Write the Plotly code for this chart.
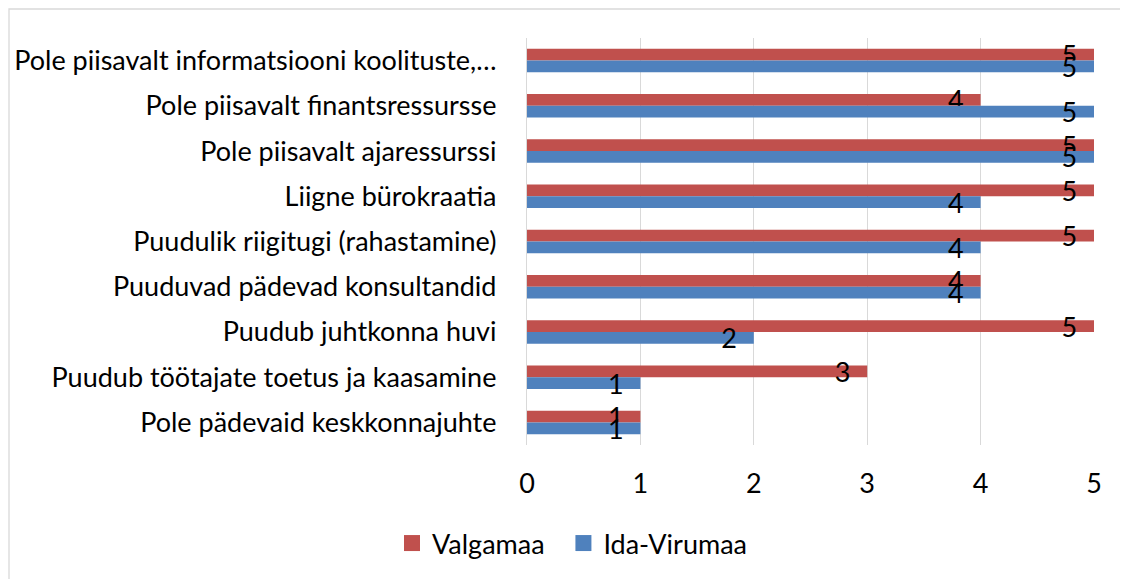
import plotly.graph_objects as go

categories = [
    "Pole piisavalt informatsiooni koolituste,…",
    "Pole piisavalt finantsressursse",
    "Pole piisavalt ajaressurssi",
    "Liigne bürokraatia",
    "Puudulik riigitugi (rahastamine)",
    "Puuduvad pädevad konsultandid",
    "Puudub juhtkonna huvi",
    "Puudub töötajate toetus ja kaasamine",
    "Pole pädevaid keskkonnajuhte",
]
valgamaa = [5, 4, 5, 5, 5, 4, 5, 3, 1]
ida_virumaa = [5, 5, 5, 4, 4, 4, 2, 1, 1]
x_ticks = [0, 1, 2, 3, 4, 5]
series = [("Valgamaa", valgamaa, "#C0504D"), ("Ida-Virumaa", ida_virumaa, "#4F81BD")]

FONT = "Lato"
FS = 27
W, H = 1128, 579
L, R, T, B = 519, 42, 30, 142

fig = go.Figure()
for name, vals, color in series:
    fig.add_trace(go.Bar(
        y=categories, x=vals, name=name, orientation="h", showlegend=False,
        marker=dict(color=color, line=dict(width=0)),
        text=[f"{v}\u00a0\u00a0" for v in vals],
        textposition="inside", insidetextanchor="end", textangle=0,
        constraintext="none", cliponaxis=False,
        textfont=dict(family=FONT, size=FS, color="#000000"),
    ))
# legend entries with larger square swatches
for i, (name, vals, color) in enumerate(series):
    fig.add_trace(go.Scatter(
        x=[None], y=[None], mode="markers", name=name + ("\u00a0\u00a0" if i == 0 else ""),
        marker=dict(symbol="square", size=17, color=color),
        showlegend=True, hoverinfo="skip",
    ))

pw = W - L - R
ph = H - T - B
fig.add_shape(type="rect", xref="paper", yref="paper",
              x0=(1 - L) / pw, x1=(1200 - L) / pw,
              y0=(H - B - 700) / ph, y1=(H - B - 1) / ph,
              line=dict(color="#D9D9D9", width=1.3), fillcolor="rgba(0,0,0,0)", layer="below")

fig.update_layout(
    width=W, height=H,
    margin=dict(l=L, r=R, t=T, b=B, autoexpand=False),
    paper_bgcolor="white", plot_bgcolor="white",
    barmode="group", bargap=0.48, bargroupgap=0,
    font=dict(family=FONT, size=FS, color="#000000"),
    showlegend=True,
    legend=dict(orientation="h", xref="container", yref="container",
                x=0.5, xanchor="center", y=(H - 535.5) / H, yanchor="middle",
                font=dict(family=FONT, size=FS, color="#000000"),
                itemwidth=30, itemsizing="trace", traceorder="normal"),
    xaxis=dict(range=[0, 5], tickvals=x_ticks, showgrid=True, gridcolor="#D9D9D9",
               gridwidth=1.3, zeroline=False, showline=False, ticks="",
               ticklabelstandoff=20, tickfont=dict(family=FONT, size=FS)),
    yaxis=dict(autorange="reversed", showgrid=False, zeroline=False,
               showline=True, linecolor="#D9D9D9", linewidth=1.3, ticks="",
               ticklabelstandoff=24, tickfont=dict(family=FONT, size=FS)),
)
fig.write_html("out.html")
